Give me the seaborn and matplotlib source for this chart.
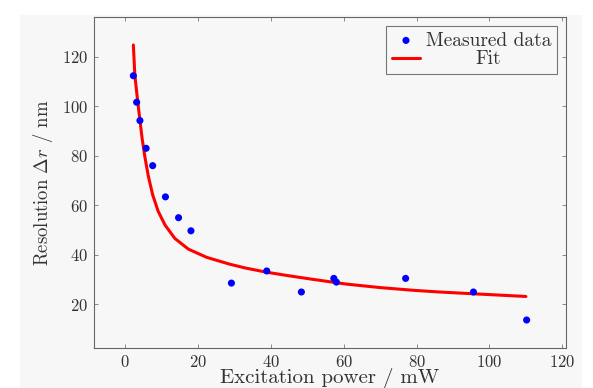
# Resolution vs excitation power, measured points + fit curve
import seaborn as sns
import pandas as pd
import matplotlib.pyplot as plt
from matplotlib.patches import Rectangle

power = [2.3, 3.2, 4.1, 5.8, 7.6, 11.1, 14.7, 18.1, 29.2, 38.9, 48.4, 57.3, 58.0, 77.0, 95.6, 110.2]
resolution = [112.3, 101.6, 94.2, 83.0, 76.0, 63.4, 55.0, 49.7, 28.6, 33.5, 25.0, 30.5, 29.0, 30.5, 25.0, 13.7]

fit_power = [2.3, 2.7, 3.5, 4.1, 4.7, 5.5, 6.4, 7.6, 9.1, 11.0, 13.7, 17.4, 22.4, 28.8, 33.0, 38.8,
             45.2, 51.6, 60.7, 69.9, 79.0, 86.3, 95.4, 110.0]
fit_resolution = [124.7, 112.6, 101.8, 94.4, 87.0, 79.2, 71.8, 64.2, 57.6, 52.0, 46.6, 42.3, 39.0, 36.2,
                  34.7, 33.0, 31.5, 30.1, 28.2, 26.8, 25.7, 25.0, 24.3, 23.2]

df = pd.DataFrame({'power': power, 'resolution': resolution})
df_fit = pd.DataFrame({'power': fit_power, 'resolution': fit_resolution})

sns.set_style("ticks")
plt.rcParams['font.family'] = 'cmr10'
plt.rcParams['mathtext.fontset'] = 'cm'
plt.rcParams['axes.formatter.use_mathtext'] = True
bg = '#f7f7f7'
txt = '#333333'

fig = plt.figure(figsize=(5.93, 3.88), dpi=100, facecolor='white')
fig.add_artist(Rectangle((20 / 593, 0), 562 / 593, 1 - 15 / 388, transform=fig.transFigure,
                         facecolor=bg, edgecolor='none', zorder=-10))
ax = fig.add_axes([94 / 593, 1 - 348 / 388, 472 / 593, 331 / 388])
ax.set_facecolor(bg)

sns.lineplot(data=df_fit, x='power', y='resolution', color='#ff0000', linewidth=2.2,
             label='Fit', ax=ax, zorder=2)
sns.scatterplot(data=df, x='power', y='resolution', color='#0000ff', s=26, edgecolor='none',
                label='Measured data', ax=ax, zorder=3)

ax.set_xlim(-8.5, 121)
ax.set_ylim(2.4, 136)
ax.set_xticks([0, 20, 40, 60, 80, 100, 120])
ax.set_yticks([20, 40, 60, 80, 100, 120])
ax.tick_params(direction='in', length=3, width=0.6, colors='#777777', labelcolor=txt,
               labelsize=12, top=True, right=True, pad=4)
for s in ax.spines.values():
    s.set_color('#666666')
    s.set_linewidth(0.8)
ax.set_xlabel('Excitation power / mW', fontsize=15, color=txt, labelpad=-1)
ax.set_ylabel(r'Resolution $\Delta r$ / nm', fontsize=13.5, color=txt, labelpad=5)

handles, labels = ax.get_legend_handles_labels()
leg = ax.legend(handles[::-1], labels[::-1], loc='upper right', fontsize=14, frameon=True,
                fancybox=False, edgecolor='#777777', facecolor=bg, framealpha=1,
                borderaxespad=0.45, handlelength=1.45, handletextpad=0.3, labelspacing=0.05,
                borderpad=0.3)
for t in leg.get_texts():
    t.set_color(txt)
leg.get_frame().set_linewidth(0.8)

# centre the shorter legend entry like pgfplots does
fig.canvas.draw()
r = fig.canvas.get_renderer()
texts = leg.get_texts()
wmax = max(t.get_window_extent(r).width for t in texts)
for t in texts:
    t.set_position(((wmax - t.get_window_extent(r).width) / 2, 0))

fig.savefig('out.png', dpi=100, facecolor='white')
